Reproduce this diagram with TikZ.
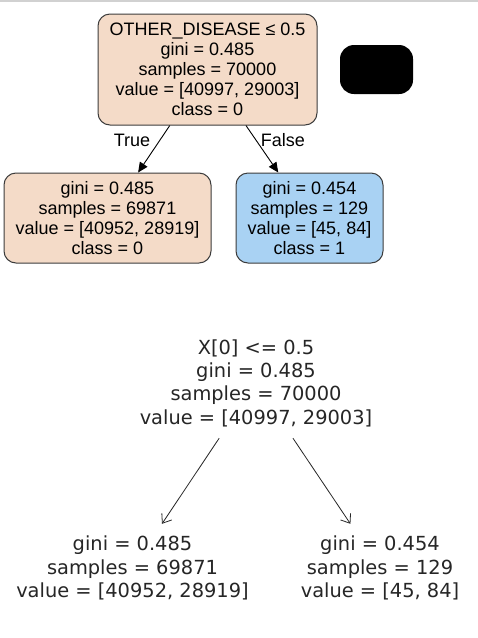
\documentclass[tikz,border=0pt]{standalone}
\usepackage{fontspec}
\setmainfont{Liberation Sans}
\newfontfamily\mplfont{DejaVu Sans}
\usetikzlibrary{arrows.meta}
\definecolor{peach}{HTML}{F4DBC8}
\definecolor{skyb}{HTML}{A9D2F3}
\definecolor{edgegray}{HTML}{3C3C3C}
\definecolor{mpltext}{HTML}{262626}
\begin{document}
\begin{tikzpicture}[x=1pt,y=-1pt,
  gvbox/.style={draw=edgegray,line width=1pt,rounded corners=12pt,inner sep=0pt,
    align=center,font=\fontsize{18}{20}\selectfont},
  gvedge/.style={draw=black,line width=0.9pt,-{Triangle[length=10pt,width=9pt]}},
  gvlab/.style={font=\fontsize{18}{20}\selectfont,inner sep=0pt},
  mplnode/.style={inner sep=0pt,align=center,text=mpltext,
    font=\mplfont\fontsize{19.4}{23.3}\selectfont},
  mpledge/.style={draw=mpltext,line width=0.8pt,-{Straight Barb[length=8pt,width=12pt]}}]
\useasboundingbox (0,0) rectangle (478,638);
\fill[white] (0,0) rectangle (478,638);
\draw[color=black!18,line width=1.5pt] (0,0.75) -- (478,0.75);
% top graphviz tree
\node[gvbox,fill=peach,minimum width=219pt,minimum height=111pt] (root) at (207.5,69.5)
  {OTHER\_DISEASE ≤ 0.5\\gini = 0.485\\samples = 70000\\value = [40997, 29003]\\class = 0};
\node[gvbox,fill=peach,minimum width=207pt,minimum height=90pt] (leafL) at (107.5,218)
  {gini = 0.485\\samples = 69871\\value = [40952, 28919]\\class = 0};
\node[gvbox,fill=skyb,minimum width=147pt,minimum height=90pt] (leafR) at (309.5,218)
  {gini = 0.454\\samples = 129\\value = [45, 84]\\class = 1};
\node[fill=black,rounded corners=14pt,minimum width=73pt,minimum height=49pt,inner sep=0pt] (blk) at (376.5,69.5) {};
\draw[gvedge] (root) -- (leafL);
\draw[gvedge] (root) -- (leafR);
\node[gvlab] (tlab) at (132,140) {True};
\node[gvlab] (flab) at (283,140) {False};
% bottom matplotlib tree
\node[mplnode,minimum height=110pt,minimum width=240pt] (broot) at (256,383)
  {X[0] <= 0.5\\gini = 0.485\\samples = 70000\\value = [40997, 29003]};
\node[mplnode,minimum height=88pt,minimum width=240pt] (bleafL) at (132.5,568)
  {gini = 0.485\\samples = 69871\\value = [40952, 28919]};
\node[mplnode,minimum height=88pt,minimum width=160pt] (bleafR) at (380,568)
  {gini = 0.454\\samples = 129\\value = [45, 84]};
\draw[mpledge] (broot) -- (bleafL);
\draw[mpledge] (broot) -- (bleafR);
\end{tikzpicture}
\end{document}
